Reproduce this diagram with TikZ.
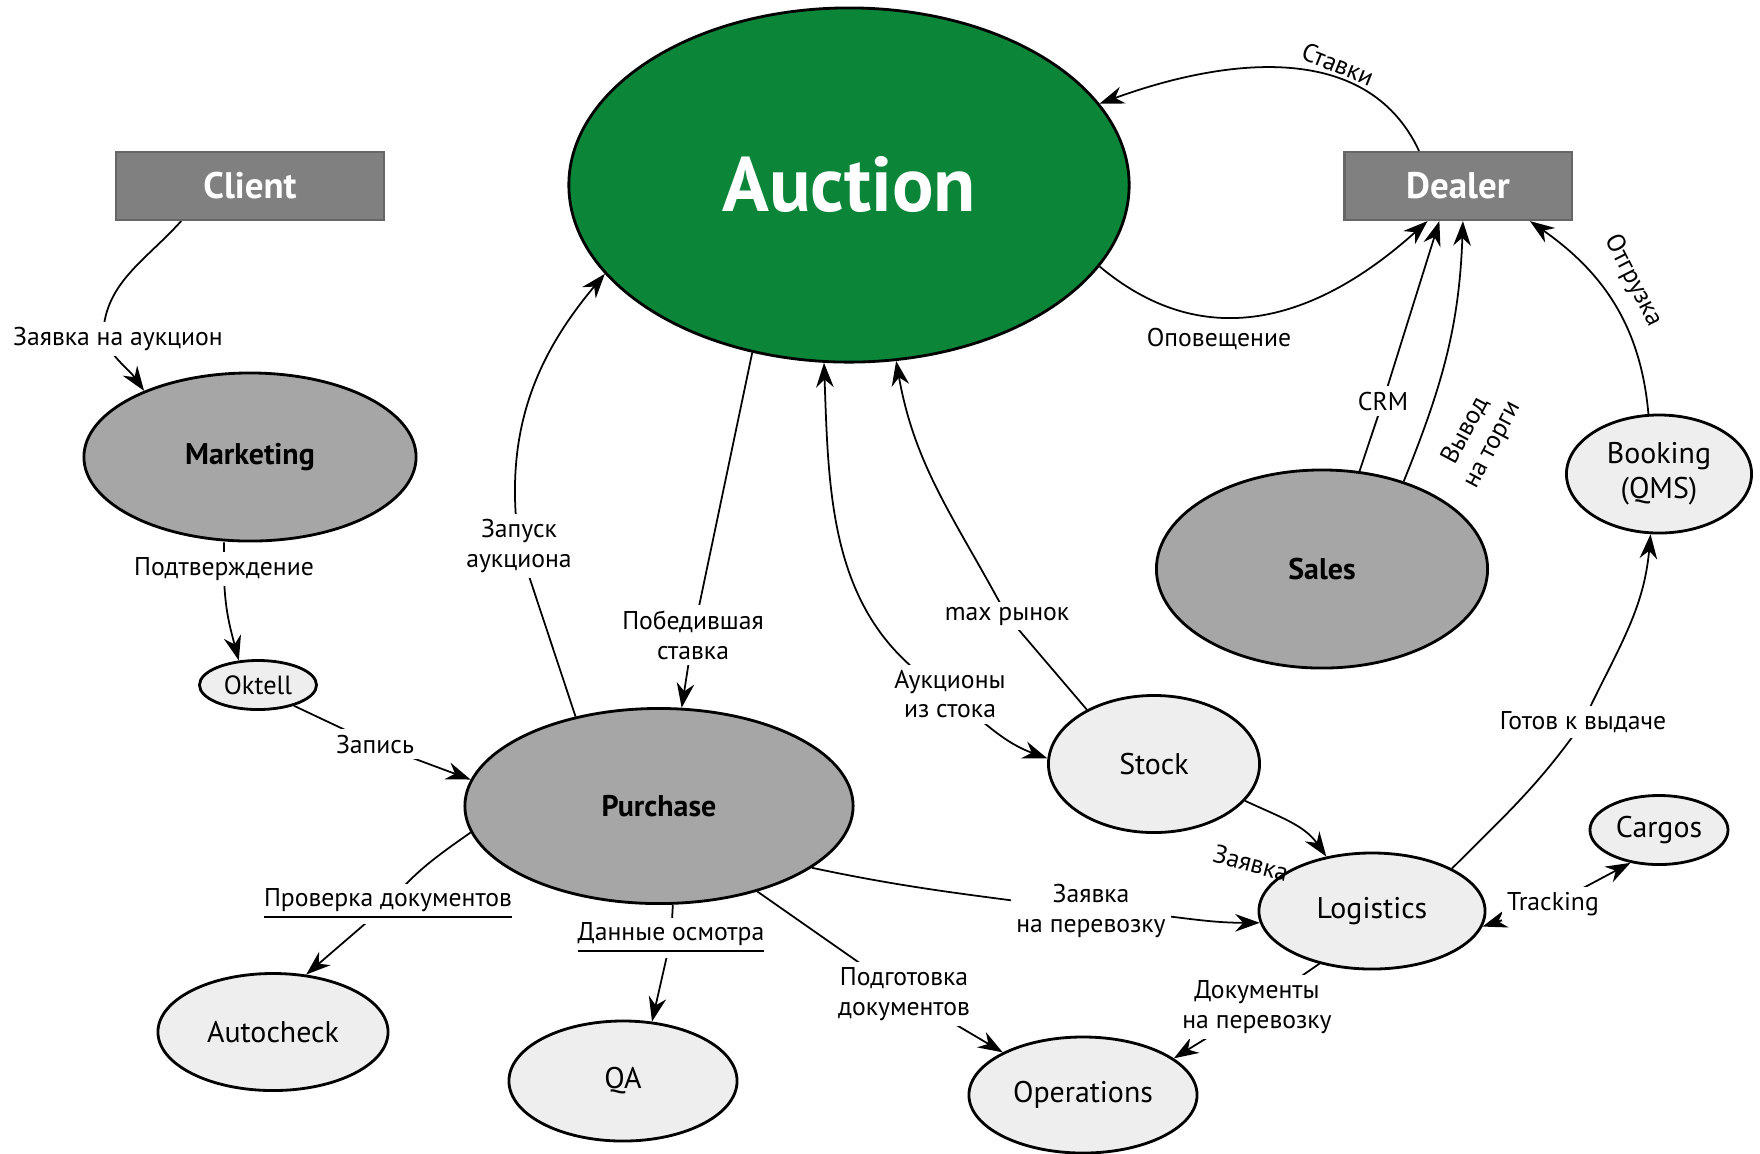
\documentclass[tikz,border=0pt]{standalone}
\usepackage{fontspec}
\setmainfont{PT Sans}
\usepackage{tikz}
\usetikzlibrary{shapes.geometric,arrows.meta,backgrounds}

\definecolor{auctgreen}{HTML}{0B8638}
\definecolor{boxgray}{HTML}{808080}
\definecolor{coregray}{HTML}{A6A6A6}
\definecolor{unitgray}{HTML}{EEEEEE}

\tikzset{
  box/.style={rectangle, draw=black!60, line width=0.6pt, fill=boxgray, text=white,
    font=\fontsize{10.5}{12}\selectfont\bfseries, inner sep=0pt},
  core/.style={ellipse, draw, line width=0.8pt, fill=coregray,
    font=\fontsize{8.5}{10}\selectfont\bfseries, inner sep=0pt},
  unit/.style={ellipse, draw, line width=0.8pt, fill=unitgray,
    font=\fontsize{8.5}{10}\selectfont, inner sep=0pt, align=center},
  lbl/.style={fill=white, inner sep=1.5pt, font=\fontsize{7.3}{8.5}\selectfont, align=center},
  side/.style={inner sep=1pt, font=\fontsize{7.3}{8.5}\selectfont, align=center},
  flow/.style={line width=0.5pt, -{Stealth[length=7pt,width=5pt]}},
  flows/.style={line width=0.5pt, {Stealth[length=7pt,width=5pt]}-{Stealth[length=7pt,width=5pt]}},
}

\begin{document}
\begin{tikzpicture}[x=0.01cm, y=-0.01cm]
\useasboundingbox (0,0) rectangle (1760,1153);

\node[box, minimum width=2.68cm, minimum height=0.68cm] (client) at (250,186) {Client};
\node[box, minimum width=2.27cm, minimum height=0.68cm] (dealer) at (1458,186) {Dealer};
\node[ellipse, draw, line width=0.8pt, fill=auctgreen, text=white, inner sep=0pt,
  font=\fontsize{22}{26}\selectfont\bfseries, minimum width=5.6cm, minimum height=3.54cm] (auction) at (849,185) {Auction};
\node[core, minimum width=3.32cm, minimum height=1.68cm] (marketing) at (250,457) {Marketing};
\node[unit, minimum width=1.17cm, minimum height=0.49cm, font=\fontsize{7.5}{9}\selectfont] (oktell) at (258,685) {Oktell};
\node[core, minimum width=3.88cm, minimum height=1.95cm] (purchase) at (659,806) {Purchase};
\node[unit, minimum width=2.30cm, minimum height=1.17cm] (autocheck) at (273,1032) {Autocheck};
\node[unit, minimum width=2.28cm, minimum height=1.20cm] (qa) at (623,1081) {QA};
\node[unit, minimum width=2.28cm, minimum height=1.16cm] (operations) at (1083,1095) {Operations};
\node[unit, minimum width=2.11cm, minimum height=1.37cm] (stock) at (1154,764) {Stock};
\node[unit, minimum width=2.26cm, minimum height=1.16cm] (logistics) at (1372,911) {Logistics};
\node[unit, minimum width=1.38cm, minimum height=0.69cm] (cargos) at (1659,830) {Cargos};
\node[unit, minimum width=1.85cm, minimum height=1.18cm] (booking) at (1659,474) {Booking\\(QMS)};
\node[core, minimum width=3.31cm, minimum height=1.98cm] (sales) at (1322,569) {Sales};

\node[lbl] (l1) at (118,339) {Заявка на аукцион};
\node[lbl] (l2) at (224,569) {Подтверждение};
\node[lbl] (l3) at (375,744) {Запись};
\node[lbl] (l4) at (519,546) {Запуск\\аукциона};
\node[lbl] (l5) at (693,635) {Победившая\\ставка};
\node[lbl] (l6) at (950,694) {Аукционы\\из стока};
\node[lbl] (l7) at (1007,616) {max рынок};
\node[side] (l8) at (1219,339) {Оповещение};
\node[side, rotate=-22] (l9) at (1338,64) {Ставки};
\node[lbl] (l10) at (1383,401) {CRM};
\node[side, rotate=62] (l11) at (1479,438) {Вывод\\на торги};
\node[side, rotate=-63] (l12) at (1633,281) {Отгрузка};
\node[lbl] (l13) at (1583,722) {Готов к выдаче};
\node[side, rotate=-15] (l14) at (1251,863) {Заявка};
\node[lbl] (l15) at (1091,911) {Заявка\\на перевозку};
\node[lbl] (l16) at (1553,904) {Tracking};
\node[lbl] (l17) at (1257,1007) {Документы\\на перевозку};
\node[lbl] (l18) at (904,994) {Подготовка\\документов};
\node[lbl] (l19) at (671,938) {\underline{Данные осмотра}};
\node[lbl] (l20) at (388,904) {\underline{Проверка документов}};

\begin{pgfonlayer}{background}
\draw[flow] (client.-153) to[out=-132,in=90] ([xshift=-0.15cm]l1.center) to[out=-60,in=125] (marketing.148);
\draw[flow] (l2 |- marketing.south) -- (l2.center) to[out=-90,in=105] (oktell.128);
\draw[flow] (oktell.-30) -- (l3.center) -- (purchase.172);
\draw[flow] (purchase.133) -- (l4.center) to[out=98,in=230] (auction.200);
\draw[flow] (auction.-120) -- (l5.center) -- (purchase.77);
\draw[flows] (auction.-98) to[out=-88,in=150] (l6.center) to[out=-40,in=160] (stock.177);
\draw[flow] (stock.141) -- (l7.center) to[out=118,in=-80] (auction.-75);
\draw[flow] (auction.-18) to[out=-40,in=-138,looseness=1.1] (dealer.-131);
\draw[flow] (dealer.138) to[out=115,in=20] (auction.18);
\draw[flow] (sales.69) -- (l10.center) -- (dealer.-118);
\draw[flow] (sales.47) to[out=68,in=-92] (dealer.-82);
\draw[flow] (booking.100) to[out=95,in=-35] (dealer.-26);
\draw[flow] (logistics.28) to[out=45,in=-125] (l13.center) to[out=65,in=-95] (booking.-98);
\draw[flow] (stock.-22) to[out=-25,in=125] (logistics.130);
\draw[flow] (purchase.-22) to[out=-12,in=172] (l15.center) to[out=0,in=180] (logistics.186);
\draw[flows] (logistics.-8) -- (l16.center) -- (cargos.-131);
\draw[flow] (logistics.-135) -- (l17.center) -- (operations.22);
\draw[flow] (purchase.-41) -- (l18.center) -- (operations.152);
\draw[flow] (purchase.-82) -- (l19.center) -- (qa.64);
\draw[flow] (purchase.188) to[out=-145,in=50] (l20.center) -- (autocheck.60);
\end{pgfonlayer}
\end{tikzpicture}
\end{document}
